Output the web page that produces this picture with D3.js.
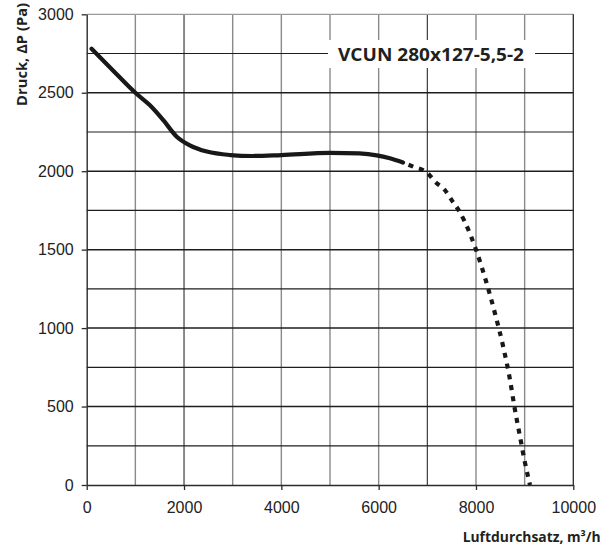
<!DOCTYPE html>
<html>
<head>
<meta charset="utf-8">
<script src="https://cdn.jsdelivr.net/npm/d3@7"></script>
<style>
  body { margin: 0; background: #fff; }
  svg { display: block; }
</style>
</head>
<body>
<svg id="chart"></svg>
<script>
var solidFlow     = [100, 500, 1000, 1300, 1575, 1850, 2120, 2470, 2950, 3400, 4000, 5000, 5600, 5960, 6230, 6500]
var solidPressure = [2780, 2655, 2500, 2420, 2325, 2220, 2165, 2125, 2103, 2097, 2103, 2117, 2113, 2101, 2082, 2055]
var dashFlow      = [6500, 6710, 7000, 7160, 7360, 7500, 7640, 7770, 8000, 8220, 8390, 8560, 8700, 8790, 8905, 9010, 9110]
var dashPressure  = [2055, 2029, 1990, 1933, 1880, 1816, 1753, 1678, 1500, 1285, 1094, 881, 669, 499, 308, 138, 0]

var xTicks = [0, 2000, 4000, 6000, 8000, 10000]
var yTicks = [0, 500, 1000, 1500, 2000, 2500, 3000]
var xGrid = [1000, 2000, 3000, 4000, 5000, 6000, 7000, 8000, 9000]
var yGrid = [250, 500, 750, 1000, 1250, 1500, 1750, 2000, 2250, 2500, 2750]

var curveLabel = "VCUN 280x127-5,5-2"
var xTitle = "Luftdurchsatz, m³/h"
var yTitle = "Druck, ΔP (Pa)"

var screen = {width: 614, height: 552}
var margins = {top: 14.3, right: 40.7, bottom: 67, left: 86.7}
var width = screen.width - margins.left - margins.right
var height = screen.height - margins.top - margins.bottom

var svg = d3.select("#chart")
    .attr("width", screen.width)
    .attr("height", screen.height)

var g = svg.append("g")
    .attr("transform", "translate(" + margins.left + "," + margins.top + ")")

var xScale = d3.scaleLinear().domain([0, 10000]).range([0, width])
var yScale = d3.scaleLinear().domain([0, 3000]).range([height, 0])

// grid
g.append("g").selectAll("line")
    .data(xGrid)
    .enter()
    .append("line")
    .attr("x1", function (d) { return xScale(d) })
    .attr("x2", function (d) { return xScale(d) })
    .attr("y1", 0)
    .attr("y2", height)
    .attr("stroke", function (d) { return (d == 2000 || d == 7000) ? "#2a2a2a" : "#8a8a8a" })
    .attr("stroke-width", function (d) { return (d == 2000 || d == 7000) ? 1.1 : 1.4 })

g.append("g").selectAll("line")
    .data(yGrid)
    .enter()
    .append("line")
    .attr("x1", 0)
    .attr("x2", width)
    .attr("y1", function (d) { return yScale(d) })
    .attr("y2", function (d) { return yScale(d) })
    .attr("stroke", "#1e1e1e")
    .attr("stroke-width", function (d) { return d % 500 == 0 ? 1.5 : 1.2 })

// frame: light top, dark right
g.append("line").attr("x1", 0).attr("x2", width).attr("y1", 0).attr("y2", 0)
    .attr("stroke", "#9a9a9a").attr("stroke-width", 1.3)
g.append("line").attr("x1", width).attr("x2", width).attr("y1", 0).attr("y2", height)
    .attr("stroke", "#2a2a2a").attr("stroke-width", 1.3)

// axes
var xAxis = d3.axisBottom(xScale).tickValues(xTicks).tickFormat(d3.format("d"))
    .tickSizeInner(5).tickSizeOuter(0).tickPadding(12)
var yAxis = d3.axisLeft(yScale).tickValues(yTicks).tickFormat(d3.format("d"))
    .tickSizeInner(5).tickSizeOuter(0).tickPadding(8)

var gx = g.append("g").attr("transform", "translate(0," + height + ")").call(xAxis)
var gy = g.append("g").call(yAxis)

;[gx, gy].forEach(function (a) {
    a.attr("font-family", "'Liberation Sans', Arial, sans-serif").attr("font-size", 16)
    a.select(".domain").attr("stroke", "#2a2a2a").attr("stroke-width", 1.4)
    a.selectAll(".tick line").attr("stroke", "#2a2a2a").attr("stroke-width", 1.3)
    a.selectAll(".tick text").attr("fill", "#222")
})
gx.selectAll(".tick text").attr("dy", "0.71em")

// label box on the 2750 gridline
var label = g.append("g")
label.append("rect")
    .attr("x", 328 - margins.left)
    .attr("y", 40 - margins.top)
    .attr("width", 207)
    .attr("height", 28)
    .attr("fill", "#fff")
label.append("text")
    .attr("x", 431 - margins.left)
    .attr("y", 60.7 - margins.top)
    .attr("text-anchor", "middle")
    .attr("fill", "#231f20")
    .attr("textLength", 186)
    .attr("lengthAdjust", "spacingAndGlyphs")
    .style("font-family", "'Open Sans', sans-serif")
    .style("font-weight", "bold")
    .style("font-size", "18.5px")
    .text(curveLabel)

// curve
var lineGenerator = d3.line()
    .x(function (d) { return xScale(d[0]) })
    .y(function (d) { return yScale(d[1]) })
    .curve(d3.curveMonotoneX)

g.append("path")
    .datum(d3.zip(solidFlow, solidPressure))
    .attr("d", lineGenerator)
    .attr("fill", "none")
    .attr("stroke", "#1a1718")
    .attr("stroke-width", 4.2)
    .attr("stroke-linecap", "round")

g.append("path")
    .datum(d3.zip(dashFlow, dashPressure))
    .attr("d", lineGenerator)
    .attr("fill", "none")
    .attr("stroke", "#1a1718")
    .attr("stroke-width", 4.2)
    .attr("stroke-dasharray", "5,6")
    .attr("stroke-dashoffset", -6)

// titles
svg.append("text")
    .attr("x", 600.7)
    .attr("y", 541.7)
    .attr("text-anchor", "end")
    .attr("fill", "#231f20")
    .attr("textLength", 138)
    .attr("lengthAdjust", "spacingAndGlyphs")
    .style("font-family", "'Open Sans', sans-serif")
    .style("font-weight", "bold")
    .style("font-size", "13.5px")
    .text(xTitle)

svg.append("text")
    .attr("transform", "translate(26.5,54.4) rotate(-90)")
    .attr("text-anchor", "middle")
    .attr("fill", "#231f20")
    .attr("textLength", 103)
    .attr("lengthAdjust", "spacingAndGlyphs")
    .style("font-family", "'Open Sans', sans-serif")
    .style("font-weight", "bold")
    .style("font-size", "13.5px")
    .text(yTitle)
</script>
</body>
</html>
